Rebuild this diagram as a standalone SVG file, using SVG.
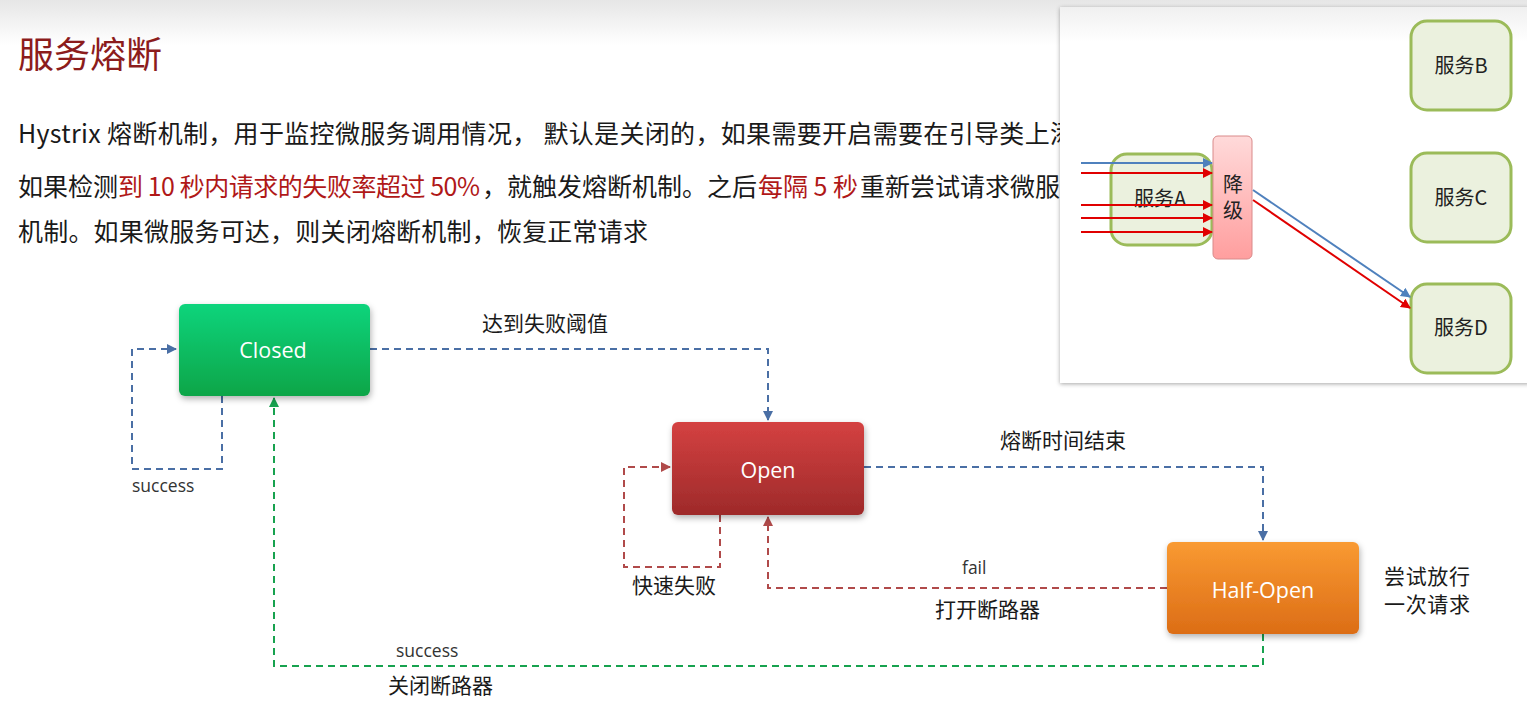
<svg xmlns="http://www.w3.org/2000/svg" width="1527" height="705" viewBox="0 0 1527 705">
<style>
.cjk{font-family:"Noto Sans CJK SC","Noto Sans",sans-serif;}
.lbl{font-family:"Noto Sans CJK SC","Noto Sans",sans-serif;font-size:21px;fill:#1a1a1a;}
.en{font-family:"Open Sans","Noto Sans",sans-serif;font-size:17.5px;fill:#333;}
.node-t{font-family:"Open Sans","Noto Sans",sans-serif;font-size:21.5px;fill:#fff;text-anchor:middle;}
.body{font-family:"Noto Sans CJK SC","Noto Sans",sans-serif;font-size:25px;fill:#1a1a1a;}
.hl{fill:#b01818;}
.dblue{fill:none;stroke:#4a6fa5;stroke-width:2;stroke-dasharray:7 5;}
.dred{fill:none;stroke:#b04a4a;stroke-width:2;stroke-dasharray:7 5;}
.dgreen{fill:none;stroke:#17a24f;stroke-width:2;stroke-dasharray:7 5;}
.svc{fill:#ebf1de;stroke:#9bbb59;stroke-width:3;}
.svct{font-family:"Noto Sans CJK SC","Noto Sans",sans-serif;font-size:20px;fill:#222;text-anchor:middle;}
.ib{stroke:#4f81bd;stroke-width:2;fill:none;}
.ir{stroke:#e00000;stroke-width:2;fill:none;}
</style>
<defs>
<linearGradient id="topg" x1="0" y1="0" x2="0" y2="1"><stop offset="0" stop-color="#e6e6e6"/><stop offset="1" stop-color="#ffffff"/></linearGradient>
<linearGradient id="gGreen" x1="0" y1="0" x2="0" y2="1"><stop offset="0" stop-color="#0bd47c"/><stop offset="1" stop-color="#10a548"/></linearGradient>
<linearGradient id="gRed" x1="0" y1="0" x2="0" y2="1"><stop offset="0" stop-color="#d44141"/><stop offset="1" stop-color="#9e2a2a"/></linearGradient>
<linearGradient id="gOrange" x1="0" y1="0" x2="0" y2="1"><stop offset="0" stop-color="#f99a32"/><stop offset="1" stop-color="#dc6d16"/></linearGradient>
<linearGradient id="gPink" x1="0" y1="0" x2="0" y2="1"><stop offset="0" stop-color="#ffdada"/><stop offset="1" stop-color="#ff9e9e"/></linearGradient>
<filter id="sh" x="-10%" y="-10%" width="130%" height="140%"><feDropShadow dx="1" dy="3" stdDeviation="3" flood-color="#000" flood-opacity="0.3"/></filter>
<filter id="psh" x="-5%" y="-5%" width="110%" height="110%"><feDropShadow dx="0" dy="1" stdDeviation="2" flood-color="#000" flood-opacity="0.35"/></filter>
<marker id="aBlue" viewBox="0 0 10 10" refX="9" refY="5" markerWidth="5" markerHeight="5" orient="auto"><path d="M0,0 L10,5 L0,10 z" fill="#4a6fa5"/></marker>
<marker id="aRed" viewBox="0 0 10 10" refX="9" refY="5" markerWidth="5" markerHeight="5" orient="auto"><path d="M0,0 L10,5 L0,10 z" fill="#b04a4a"/></marker>
<marker id="aGreen" viewBox="0 0 10 10" refX="9" refY="5" markerWidth="5" markerHeight="5" orient="auto"><path d="M0,0 L10,5 L0,10 z" fill="#17a24f"/></marker>
<marker id="iB" viewBox="0 0 10 10" refX="9" refY="5" markerWidth="5" markerHeight="5" orient="auto"><path d="M0,0 L10,5 L0,10 z" fill="#4f81bd"/></marker>
<marker id="iR" viewBox="0 0 10 10" refX="9" refY="5" markerWidth="5" markerHeight="5" orient="auto"><path d="M0,0 L10,5 L0,10 z" fill="#e00000"/></marker>
</defs>
<rect x="0" y="0" width="1527" height="705" fill="#fff"/>
<rect x="0" y="0" width="1527" height="45" fill="url(#topg)"/>

<text x="18" y="68" class="cjk" font-size="36" fill="#8c1c1c">服务熔断</text>
<text class="body" y="143"><tspan x="18" textLength="1057" lengthAdjust="spacing">Hystrix 熔断机制，用于监控微服务调用情况， 默认是关闭的，如果需要开启需要在引导类上添</tspan></text>
<text class="body" y="196"><tspan x="18">如果检测</tspan><tspan x="118" class="hl" textLength="362" lengthAdjust="spacing">到 10 秒内请求的失败率超过 50%</tspan><tspan x="482">，就触发熔断机制。之后</tspan><tspan x="758" class="hl">每隔 5 秒</tspan><tspan x="860">重新尝试请求微服</tspan></text>
<text class="body" y="241"><tspan x="18" textLength="630" lengthAdjust="spacing">机制。如果微服务可达，则关闭熔断机制，恢复正常请求</tspan></text>

<g id="connectors">
<path class="dblue" d="M370,349 H768 V420" marker-end="url(#aBlue)"/>
<path class="dblue" d="M222,396 V469 H132 V349 H176" marker-end="url(#aBlue)"/>
<path class="dblue" d="M864,467 H1263 V540" marker-end="url(#aBlue)"/>
<path class="dred" d="M720,515 V567 H624 V467 H670" marker-end="url(#aRed)"/>
<path class="dred" d="M1167,588 H768 V517" marker-end="url(#aRed)"/>
<path class="dgreen" d="M1263,634 V666 H274 V398" marker-end="url(#aGreen)"/>
<text x="132" y="492" class="en">success</text>
<text x="482" y="331" class="lbl">达到失败阈值</text>
<text x="1000" y="448" class="lbl">熔断时间结束</text>
<text x="632" y="593" class="lbl">快速失败</text>
<text x="962" y="574" class="en">fail</text>
<text x="935" y="617" class="lbl">打开断路器</text>
<text x="396" y="657" class="en">success</text>
<text x="388" y="693" class="lbl">关闭断路器</text>
<text class="lbl" font-size="19.5"><tspan x="1384" y="584" textLength="86">尝试放行</tspan><tspan x="1384" y="612" textLength="86">一次请求</tspan></text>
</g>

<g id="closed">
<rect x="179" y="304" width="191" height="92" rx="6" fill="url(#gGreen)" filter="url(#sh)"/>
<text x="273" y="358" class="node-t">Closed</text>
</g>
<g id="open">
<rect x="672" y="422" width="192" height="93" rx="6" fill="url(#gRed)" filter="url(#sh)"/>
<text x="768" y="478" class="node-t">Open</text>
</g>
<g id="half-open">
<rect x="1167" y="542" width="192" height="92" rx="6" fill="url(#gOrange)" filter="url(#sh)"/>
<text x="1263" y="598" class="node-t">Half-Open</text>
</g>

<g id="inset">
<rect x="1060" y="7" width="470" height="376" fill="#fff" filter="url(#psh)"/>
<rect x="1060" y="7" width="470" height="35" fill="url(#topg)" opacity="0.6"/>
<g id="svcB"><rect x="1411" y="21" width="100" height="89" rx="16" class="svc"/><text x="1461" y="73" class="svct">服务B</text></g>
<g id="svcC"><rect x="1411" y="153" width="100" height="89" rx="16" class="svc"/><text x="1461" y="205" class="svct">服务C</text></g>
<g id="svcD"><rect x="1411" y="284" width="100" height="89" rx="16" class="svc"/><text x="1461" y="335" class="svct">服务D</text></g>
<g id="svcA"><rect x="1111" y="154" width="101" height="91" rx="16" class="svc"/><text x="1160" y="206" class="svct">服务A</text></g>
<g id="degrade"><rect x="1213" y="136" width="39" height="123" rx="5" fill="url(#gPink)" stroke="#d98a8a" stroke-width="1"/><text x="1233" y="192" class="svct">降</text><text x="1233" y="218" class="svct">级</text></g>
<g id="inset-arrows">
<line x1="1081" y1="163" x2="1212" y2="163" class="ib" marker-end="url(#iB)"/>
<line x1="1081" y1="173" x2="1212" y2="173" class="ir" marker-end="url(#iR)"/>
<line x1="1081" y1="205" x2="1212" y2="205" class="ir" marker-end="url(#iR)"/>
<line x1="1081" y1="218" x2="1212" y2="218" class="ir" marker-end="url(#iR)"/>
<line x1="1081" y1="232" x2="1212" y2="232" class="ir" marker-end="url(#iR)"/>
<line x1="1253" y1="190" x2="1410" y2="297" class="ib" marker-end="url(#iB)"/>
<line x1="1253" y1="200" x2="1410" y2="308" class="ir" marker-end="url(#iR)"/>
</g>
</g>
</svg>
